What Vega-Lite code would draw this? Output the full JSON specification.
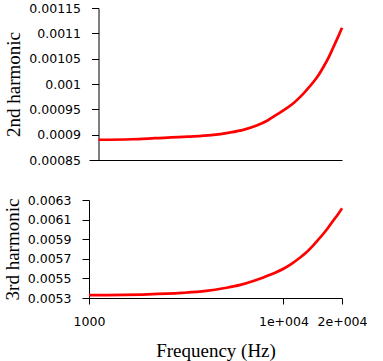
{
  "$schema": "https://vega.github.io/schema/vega-lite/v6.json",
  "background": "white",
  "padding": {"left": 3, "top": 2, "right": 0, "bottom": 0},
  "spacing": 27,
  "config": {
    "view": {"stroke": null},
    "axis": {
      "grid": false,
      "domainColor": "black",
      "tickColor": "black",
      "domainWidth": 1,
      "tickWidth": 1,
      "labelFont": "DejaVu Sans",
      "labelFontSize": 12.5,
      "labelColor": "black",
      "labelOverlap": false,
      "labelFlush": false,
      "titleFont": "Liberation Serif",
      "titleFontSize": 19,
      "titleFontWeight": "normal",
      "titleColor": "black"
    }
  },
  "datasets": {
    "h2": [
      {"freq": 1000, "value": 0.00089},
      {"freq": 1500, "value": 0.000891},
      {"freq": 2000, "value": 0.000893},
      {"freq": 3000, "value": 0.000896},
      {"freq": 4000, "value": 0.000899},
      {"freq": 5000, "value": 0.000904},
      {"freq": 6000, "value": 0.00091},
      {"freq": 7000, "value": 0.000918},
      {"freq": 8000, "value": 0.000928},
      {"freq": 9000, "value": 0.00094},
      {"freq": 10000, "value": 0.000951},
      {"freq": 11000, "value": 0.000962},
      {"freq": 12000, "value": 0.000975},
      {"freq": 13000, "value": 0.000989},
      {"freq": 14000, "value": 0.001003},
      {"freq": 15000, "value": 0.001018},
      {"freq": 16000, "value": 0.001035},
      {"freq": 17000, "value": 0.001053},
      {"freq": 18000, "value": 0.001073},
      {"freq": 19000, "value": 0.001092},
      {"freq": 20000, "value": 0.001111}
    ],
    "h3": [
      {"freq": 1000, "value": 0.00533},
      {"freq": 2000, "value": 0.005338},
      {"freq": 3000, "value": 0.005352},
      {"freq": 4000, "value": 0.005372},
      {"freq": 5000, "value": 0.005402},
      {"freq": 6000, "value": 0.005434},
      {"freq": 7000, "value": 0.005474},
      {"freq": 8000, "value": 0.005515},
      {"freq": 9000, "value": 0.005555},
      {"freq": 10000, "value": 0.005598},
      {"freq": 11000, "value": 0.005648},
      {"freq": 12000, "value": 0.005703},
      {"freq": 13000, "value": 0.005758},
      {"freq": 14000, "value": 0.005822},
      {"freq": 15000, "value": 0.005888},
      {"freq": 16000, "value": 0.005953},
      {"freq": 17000, "value": 0.00602},
      {"freq": 18000, "value": 0.006088},
      {"freq": 19000, "value": 0.00615},
      {"freq": 20000, "value": 0.006215}
    ]
  },
  "vconcat": [
    {
      "width": 253,
      "height": 152,
      "data": {"name": "h2"},
      "mark": {"type": "line", "color": "#ff0000", "strokeWidth": 2.7, "interpolate": "monotone"},
      "encoding": {
        "x": {
          "field": "freq", "type": "quantitative",
          "scale": {"type": "log", "domain": [889.7, 20000], "nice": false},
          "axis": {"title": null, "labels": false, "ticks": false}
        },
        "y": {
          "field": "value", "type": "quantitative",
          "scale": {"domain": [0.00085, 0.00115], "nice": false, "zero": false},
          "axis": {
            "title": "2nd harmonic",
            "values": [0.00085, 0.0009, 0.00095, 0.001, 0.00105, 0.0011, 0.00115],
            "format": ".5~f",
            "offset": -9.5,
            "tickSize": 7,
            "labelPadding": 11,
            "titlePadding": 5,
            "labelFlush": false,
            "labelOverlap": false
          }
        }
      }
    },
    {
      "width": 253,
      "height": 98,
      "data": {"name": "h3"},
      "mark": {"type": "line", "color": "#ff0000", "strokeWidth": 2.7, "interpolate": "monotone"},
      "encoding": {
        "x": {
          "field": "freq", "type": "quantitative",
          "scale": {"type": "log", "domain": [1000, 20000], "nice": false},
          "axis": {
            "title": "Frequency (Hz)",
            "values": [1000, 10000, 20000],
            "labelExpr": "datum.value == 1000 ? '1000' : (datum.value == 10000 ? '1e+004' : '2e+004')",
            "tickSize": 6,
            "labelPadding": 11,
            "titlePadding": 14,
            "labelFlush": false,
            "labelOverlap": false
          }
        },
        "y": {
          "field": "value", "type": "quantitative",
          "scale": {"domain": [0.0053, 0.0063], "nice": false, "zero": false},
          "axis": {
            "title": "3rd harmonic",
            "values": [0.0053, 0.0055, 0.0057, 0.0059, 0.0061, 0.0063],
            "format": ".4~f",
            "tickSize": 7,
            "labelPadding": 11,
            "titlePadding": 5,
            "labelFlush": false,
            "labelOverlap": false
          }
        }
      }
    }
  ]
}
